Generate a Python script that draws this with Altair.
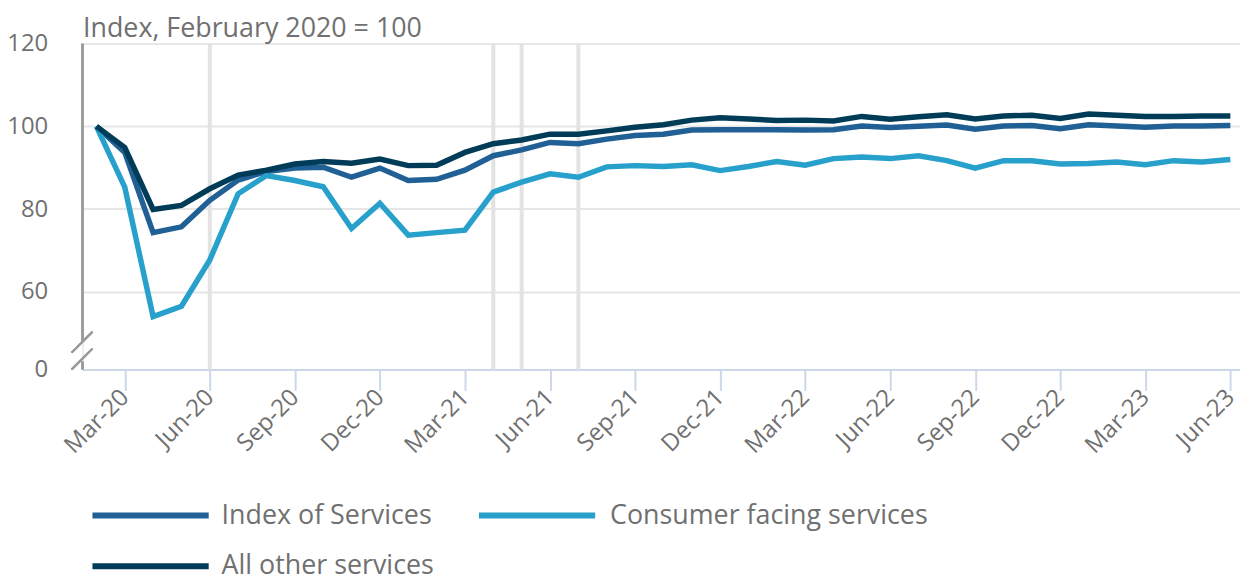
import json
import altair as alt
import pandas as pd

months = ["Feb-20", "Mar-20", "Apr-20", "May-20", "Jun-20", "Jul-20", "Aug-20", "Sep-20", "Oct-20",
          "Nov-20", "Dec-20", "Jan-21", "Feb-21", "Mar-21", "Apr-21", "May-21", "Jun-21", "Jul-21",
          "Aug-21", "Sep-21", "Oct-21", "Nov-21", "Dec-21", "Jan-22", "Feb-22", "Mar-22", "Apr-22",
          "May-22", "Jun-22", "Jul-22", "Aug-22", "Sep-22", "Oct-22", "Nov-22", "Dec-22", "Jan-23",
          "Feb-23", "Mar-23", "Apr-23", "May-23", "Jun-23"]

index_of_services = [100, 93.7, 74.3, 75.7, 82.1, 87.0, 89.1, 89.9, 90.1, 87.7, 89.9, 86.9, 87.2, 89.4,
                     92.9, 94.3, 96.1, 95.8, 96.9, 97.8, 98.1, 99.1, 99.2, 99.2, 99.2, 99.1, 99.2, 100.1,
                     99.7, 100.0, 100.3, 99.3, 100.1, 100.2, 99.4, 100.4, 100.1, 99.8, 100.1, 100.1, 100.2]
consumer_facing = [100, 85.3, 54.0, 56.5, 67.7, 83.7, 88.1, 86.9, 85.4, 75.3, 81.4, 73.7, 74.3, 74.9,
                   84.1, 86.5, 88.5, 87.7, 90.2, 90.5, 90.3, 90.7, 89.3, 90.3, 91.5, 90.6, 92.2, 92.6,
                   92.2, 92.9, 91.7, 89.9, 91.7, 91.7, 90.9, 91.0, 91.4, 90.7, 91.7, 91.4, 92.0]
all_other = [100, 94.9, 79.9, 80.9, 84.9, 88.2, 89.4, 90.9, 91.5, 91.1, 92.1, 90.5, 90.6, 93.7,
             95.8, 96.7, 98.1, 98.1, 98.9, 99.8, 100.4, 101.5, 102.1, 101.8, 101.4, 101.5, 101.3, 102.4,
             101.7, 102.3, 102.8, 101.8, 102.5, 102.7, 101.9, 103.0, 102.7, 102.4, 102.4, 102.5, 102.5]

series_names = ["Index of Services", "Consumer facing services", "All other services"]
series_colors = ["#206095", "#27a0cc", "#003c57"]
tick_months = ["Mar-20", "Jun-20", "Sep-20", "Dec-20", "Mar-21", "Jun-21", "Sep-21", "Dec-21",
               "Mar-22", "Jun-22", "Sep-22", "Dec-22", "Mar-23", "Jun-23"]
event_months = ["Jun-20", "Apr-21", "May-21", "Jul-21"]
y_ticks = [60, 80, 100, 120]
Y_BREAK = 41.2  # scale position where the broken axis shows "0"

rows = []
for k, (name, vals) in enumerate(zip(series_names, [index_of_services, consumer_facing, all_other])):
    for i, m in enumerate(months):
        rows.append({"i": i, "month": m, "series": name, "value": vals[i], "k": k})
df = pd.DataFrame(rows)
events = pd.DataFrame({"i": [months.index(m) for m in event_months]})

FONT = "Open Sans"
TXT = "#707070"

x_scale = alt.Scale(domain=[-0.49, 40.34], nice=False, zero=False)
y_scale = alt.Scale(domain=[Y_BREAK, 120], nice=False, zero=False)

x_axis = alt.Axis(
    values=[months.index(t) for t in tick_months],
    labelExpr=f"{json.dumps(months)}[datum.value]",
    labelAngle=315, labelAlign="right", labelBaseline="middle", labelPadding=3,
    tickSize=21, tickColor="#cdd7ea", tickWidth=2,
    domainColor="#cdd7ea", domainWidth=2, grid=False, title=None,
    labelFont=FONT, labelFontSize=24, labelColor=TXT,
)
y_axis = alt.Axis(
    values=[Y_BREAK] + y_ticks,
    labelExpr="datum.value < 50 ? '0' : datum.label",
    ticks=False, domain=False, grid=True,
    gridColor={"condition": {"test": "datum.value < 50", "value": "transparent"}, "value": "#e6e6e6"},
    gridWidth=2, labelPadding=35,
    labelFont=FONT, labelFontSize=24, labelColor=TXT,
    title="Index, February 2020 = 100", titleAngle=0, titleAlign="left", titleBaseline="alphabetic",
    titleX=0, titleY=-7, titleFont=FONT, titleFontSize=27, titleFontWeight="normal", titleColor=TXT,
)

event_rules = alt.Chart(events).mark_rule(color="#e3e3e3", strokeWidth=4).encode(
    x=alt.X("i:Q", scale=x_scale, axis=x_axis)
)

lines = alt.Chart(df).mark_line(strokeWidth=5.5, strokeJoin="miter", strokeCap="butt").encode(
    x=alt.X("i:Q", scale=x_scale, axis=x_axis),
    y=alt.Y("value:Q", scale=y_scale, axis=y_axis),
    color=alt.Color("series:N", scale=alt.Scale(domain=series_names, range=series_colors), legend=None),
    order=alt.Order("k:Q"),
    detail="series:N",
)

axis_color = "#9a9a9a"
y_domain = alt.Chart(events).mark_rule(color=axis_color, strokeWidth=2).encode(
    x=alt.value(0), y=alt.datum(120), y2=alt.datum(47.9)
)
slash1 = alt.Chart(events).mark_rule(color=axis_color, strokeWidth=2).encode(
    x=alt.value(10), y=alt.value(290), x2=alt.value(-11), y2=alt.value(311)
)
slash2 = alt.Chart(events).mark_rule(color=axis_color, strokeWidth=2).encode(
    x=alt.value(10), y=alt.value(307), x2=alt.value(-11), y2=alt.value(328)
)
stub = alt.Chart(events).mark_rule(color=axis_color, strokeWidth=2).encode(
    x=alt.value(0), y=alt.value(320), y2=alt.value(328)
)

# legend, laid out by hand (pixel offsets relative to the plot area)
legend_slots = [(10, 475, 130), (399, 475, 132), (10, 526, 130)]
legend_layers = []
for name, col, (lx, ly, off) in zip(series_names, series_colors, legend_slots):
    one = pd.DataFrame({"series": [name]})
    legend_layers.append(
        alt.Chart(one).mark_rule(color=col, strokeWidth=6).encode(
            x=alt.value(lx), x2=alt.value(lx + 117), y=alt.value(ly)
        )
    )
    legend_layers.append(
        alt.Chart(one).mark_text(align="left", baseline="middle", font=FONT, fontSize=27, color=TXT).encode(
            x=alt.value(lx + off), y=alt.value(ly), text="series:N"
        )
    )

chart = alt.layer(event_rules, lines, y_domain, slash1, slash2, stub, *legend_layers).properties(
    width=1165, height=328,
    autosize=alt.AutoSizeParams(type="none"),
    padding={"left": 75, "top": 34, "right": 0, "bottom": 211},
).configure_view(stroke=None).configure(font=FONT)

chart.save("out.html", embed_options={"renderer": "svg", "actions": False})
